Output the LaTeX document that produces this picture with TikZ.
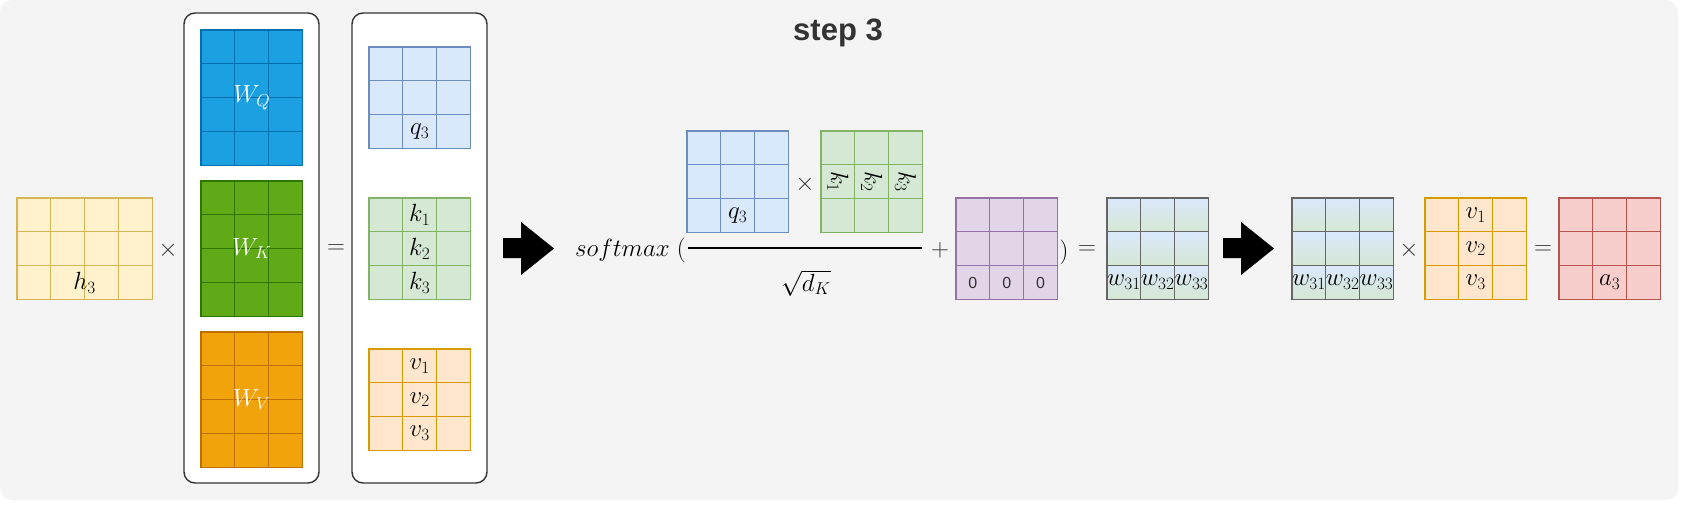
\documentclass[tikz,border=0pt]{standalone}
\usepackage{fontspec}
\setsansfont{Liberation Sans}
\usepackage{tikz}

\definecolor{bggray}{HTML}{F4F4F4}
\definecolor{opgray}{HTML}{333333}
\definecolor{hfill}{HTML}{FFF2CC}
\definecolor{hline}{HTML}{D6B656}
\definecolor{wqfill}{HTML}{1BA1E2}
\definecolor{wqline}{HTML}{006EAF}
\definecolor{wkfill}{HTML}{60A917}
\definecolor{wkline}{HTML}{2D7600}
\definecolor{wvfill}{HTML}{F0A30A}
\definecolor{wvline}{HTML}{BD7000}
\definecolor{qfill}{HTML}{DAE8FC}
\definecolor{qline}{HTML}{6C8EBF}
\definecolor{kfill}{HTML}{D5E8D4}
\definecolor{kline}{HTML}{82B366}
\definecolor{vfill}{HTML}{FFE6CC}
\definecolor{vline}{HTML}{D79B00}
\definecolor{mfill}{HTML}{E1D5E7}
\definecolor{mline}{HTML}{9673A6}
\definecolor{afill}{HTML}{F8CECC}
\definecolor{aline}{HTML}{B85450}
\definecolor{wline}{HTML}{666666}

\def\cellsz{33.8}
\newcommand{\cellgrid}[5]{%
	\foreach \cx in {1,...,#3}
		\foreach \cy in {1,...,#4}
			\draw[line width=1.2pt, #5] ({#1+(\cx-1)*\cellsz},{#2+(\cy-1)*\cellsz}) rectangle ++(\cellsz,\cellsz);
}
\newcommand{\blockarrow}[1]{%
	\fill[black] (#1,238) -- (#1+18,238) -- (#1+18,222) -- (#1+51,248.5) -- (#1+18,275) -- (#1+18,258) -- (#1,258) -- cycle;
}

\tikzset{
	lbl/.style={inner sep=0pt, font=\fontsize{24}{28}\selectfont},
	wlbl/.style={lbl, text=white},
	oper/.style={inner sep=0pt, font=\fontsize{26}{30}\selectfont, text=opgray},
	zero/.style={inner sep=0pt, font=\sffamily\fontsize{16}{19}\selectfont, text=opgray},
	panel/.style={draw=opgray, fill=white, line width=1.4pt, rounded corners=11pt}
}

\begin{document}
\begin{tikzpicture}[x=1pt, y=-1pt]
	\useasboundingbox (0,0) rectangle (1684,516);
	\fill[white] (0,0) rectangle (1684,516);
	\fill[bggray, rounded corners=12pt] (0,0) rectangle (1678,500);

	\node[font=\sffamily\bfseries\fontsize{31}{35}\selectfont, text=opgray] (title) at (838,33) {step 3};

	\draw[panel] (184,13) rectangle (319,483);
	\draw[panel] (352,13) rectangle (487,483);

	\cellgrid{17}{198}{4}{3}{draw=hline, fill=hfill}
	\cellgrid{201}{30}{3}{4}{draw=wqline, fill=wqfill}
	\cellgrid{201}{181}{3}{4}{draw=wkline, fill=wkfill}
	\cellgrid{201}{332}{3}{4}{draw=wvline, fill=wvfill}
	\cellgrid{369}{47}{3}{3}{draw=qline, fill=qfill}
	\cellgrid{369}{198}{3}{3}{draw=kline, fill=kfill}
	\cellgrid{369}{349}{3}{3}{draw=vline, fill=vfill}
	\cellgrid{687}{131}{3}{3}{draw=qline, fill=qfill}
	\cellgrid{821}{131}{3}{3}{draw=kline, fill=kfill}
	\cellgrid{956}{198}{3}{3}{draw=mline, fill=mfill}
	\cellgrid{1107}{198}{3}{3}{draw=wline, top color=qfill, bottom color=kfill}
	\cellgrid{1292}{198}{3}{3}{draw=wline, top color=qfill, bottom color=kfill}
	\cellgrid{1425}{198}{3}{3}{draw=vline, fill=vfill}
	\cellgrid{1559}{198}{3}{3}{draw=aline, fill=afill}

	\node[lbl] (hthree) at (84.6,282.5) {$h_3$};
	\node[wlbl] (wq) at (251.7,97.6) {$W_Q$};
	\node[wlbl] (wk) at (251.7,248.6) {$W_K$};
	\node[wlbl] (wv) at (251.7,399.6) {$W_V$};
	\node[lbl] (qthree) at (419.7,131.5) {$q_3$};
	\node[lbl] (kone) at (419.7,214.9) {$k_1$};
	\node[lbl] (ktwo) at (419.7,248.7) {$k_2$};
	\node[lbl] (kthree) at (419.7,282.5) {$k_3$};
	\node[lbl] (vone) at (419.7,365.9) {$v_1$};
	\node[lbl] (vtwo) at (419.7,399.7) {$v_2$};
	\node[lbl] (vthree) at (419.7,433.5) {$v_3$};

	\node[oper] (times1) at (168,250) {$\times$};
	\node[oper] (eq1) at (336,249) {$=$};

	\blockarrow{503}

	\node[lbl, anchor=base east] (softmax) at (686,256) {$softmax\ ($};
	\node[lbl] (qnum) at (737.7,215.5) {$q_3$};
	\node[oper] (times2) at (805,184) {$\times$};
	\node[lbl, rotate=-90] (ktone) at (837.9,181.7) {$k_1$};
	\node[lbl, rotate=-90] (kttwo) at (871.7,181.7) {$k_2$};
	\node[lbl, rotate=-90] (ktthree) at (905.5,181.7) {$k_3$};
	\draw[line width=1.3pt] (688,248) -- (922,248);
	\node[lbl] (sqrtdk) at (806,283) {$\sqrt{d_K}$};
	\node[oper] (plus) at (940,250) {$+$};

	\node[zero] (mzero1) at (972.9,282.5) {0};
	\node[zero] (mzero2) at (1006.7,282.5) {0};
	\node[zero] (mzero3) at (1040.5,282.5) {0};
	\node[lbl] (rparen) at (1064,252) {$)$};
	\node[oper] (eq2) at (1087,250) {$=$};

	\node[lbl] (wa1) at (1123.9,282.5) {$w_{31}$};
	\node[lbl] (wa2) at (1157.7,282.5) {$w_{32}$};
	\node[lbl] (wa3) at (1191.5,282.5) {$w_{33}$};

	\blockarrow{1223}

	\node[lbl] (wb1) at (1308.9,282.5) {$w_{31}$};
	\node[lbl] (wb2) at (1342.7,282.5) {$w_{32}$};
	\node[lbl] (wb3) at (1376.5,282.5) {$w_{33}$};

	\node[oper] (times3) at (1409,250) {$\times$};
	\node[lbl] (vrone) at (1475.7,214.9) {$v_1$};
	\node[lbl] (vrtwo) at (1475.7,248.7) {$v_2$};
	\node[lbl] (vrthree) at (1475.7,282.5) {$v_3$};
	\node[oper] (eq3) at (1543,250) {$=$};
	\node[lbl] (athree) at (1609.7,282.5) {$a_3$};
\end{tikzpicture}
\end{document}
